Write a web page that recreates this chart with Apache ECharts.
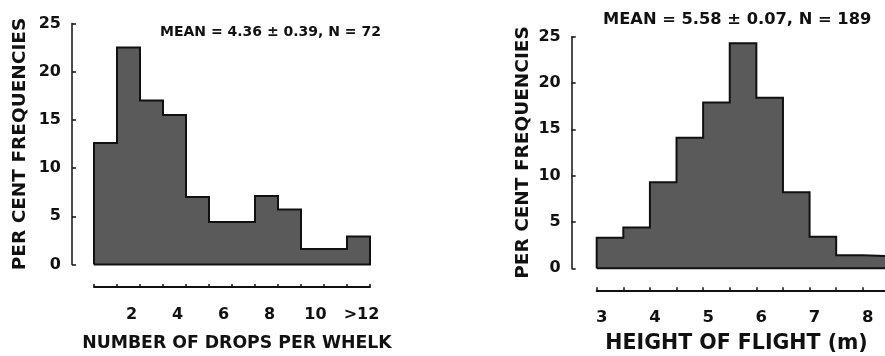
<!DOCTYPE html>
<html>
<head>
<meta charset="utf-8">
<script src="https://cdn.jsdelivr.net/npm/echarts@6/dist/echarts.min.js"></script>
<style>
  html, body { margin: 0; padding: 0; background: #fff; }
  #chart { width: 885px; height: 356px; }
</style>
</head>
<body>
<div id="chart"></div>
<script>
// Left panel: number of drops per whelk (one bin per drop count, last bin ">12")
const dropCategories = ['1', '2', '3', '4', '5', '6', '7', '8', '9', '10', '11', '>12'];
const dropPercent = [12.6, 22.5, 17.0, 15.5, 7.0, 4.4, 4.4, 7.1, 5.7, 1.6, 1.6, 2.9];
const dropTitle = 'MEAN = 4.36 ± 0.39, N = 72';

// Right panel: height of flight, 0.5 m bins starting at 3 m
const heightBinStart = 3;
const heightBinWidth = 0.5;
const heightPercent = [3.3, 4.4, 9.3, 14.1, 17.9, 24.3, 18.4, 8.2, 3.4, 1.4, 1.3];
const heightTitle = 'MEAN = 5.58 ± 0.07, N = 189';

const yTicks = [0, 5, 10, 15, 20, 25];

// Outline of a histogram as a closed path along the bin edges
function histogramPath(values, start, width) {
  const pts = [[start, 0]];
  values.forEach((v, i) => {
    pts.push([start + i * width, v]);
    pts.push([start + (i + 1) * width, v]);
  });
  const end = start + values.length * width;
  pts.push([end, 0]);
  pts.push([start, 0]);
  return pts;
}

const FONT = 'DejaVu Sans';
const INK = '#111';
const FILL = '#5a5a5a';

function yAxisFor(gridIndex, offset, nameGap) {
  return {
    gridIndex: gridIndex,
    type: 'value',
    min: yTicks[0],
    max: yTicks[yTicks.length - 1],
    interval: 5,
    offset: offset,
    name: 'PER CENT FREQUENCIES',
    nameLocation: 'middle',
    nameRotate: 90,
    nameGap: nameGap,
    nameTextStyle: { fontFamily: FONT, fontWeight: 'bold', fontSize: 18.5, color: INK },
    axisLine: { show: true, onZero: false, lineStyle: { color: INK, width: 1.5 } },
    axisTick: { show: true, inside: true, length: 4, lineStyle: { color: INK, width: 1.5 } },
    axisLabel: { fontFamily: FONT, fontWeight: 'bold', fontSize: 16, color: INK, margin: 11 },
    splitLine: { show: false }
  };
}

const chart = echarts.init(document.getElementById('chart'), null, { renderer: 'canvas' });

const heightEnd = heightBinStart + heightPercent.length * heightBinWidth;

chart.setOption({
  animation: false,
  backgroundColor: '#fff',
  title: [
    {
      text: dropTitle, left: 155, top: 20,
      textStyle: { fontFamily: FONT, fontWeight: 'bold', fontSize: 14, color: INK }
    },
    {
      text: heightTitle, left: 598, top: 7,
      textStyle: { fontFamily: FONT, fontWeight: 'bold', fontSize: 16.3, color: INK }
    }
  ],
  grid: [
    { left: 94, top: 23.5, width: 276, height: 241, containLabel: false, outerBoundsMode: 'none' },
    { left: 596.7, top: 36.7, width: 292.7, height: 231.6, containLabel: false, outerBoundsMode: 'none' }
  ],
  xAxis: [
    // scale for the left histogram outline
    { gridIndex: 0, type: 'value', min: 0, max: dropCategories.length, show: false,
      axisLine: { onZero: false } },
    // visible axis of the left panel, set below the bars
    {
      gridIndex: 0,
      type: 'category',
      data: dropCategories,
      boundaryGap: true,
      position: 'bottom',
      offset: 22.5,
      name: 'NUMBER OF DROPS PER WHELK',
      nameLocation: 'middle',
      nameGap: 48,
      nameTextStyle: { fontFamily: FONT, fontWeight: 'bold', fontSize: 17.3, color: INK,
        padding: [0, 0, 0, 10] },
      axisLine: { show: true, onZero: false, lineStyle: { color: INK, width: 2 } },
      axisTick: { show: true, inside: true, length: 3, interval: 0, lineStyle: { color: INK, width: 1.5 } },
      axisLabel: {
        fontFamily: FONT, fontWeight: 'bold', fontSize: 16, color: INK, margin: 20,
        padding: [0, 0, 0, 6],
        interval: (i) => i % 2 === 1
      },
      splitLine: { show: false }
    },
    // right panel: one value axis for both the bars and the visible scale
    {
      gridIndex: 1,
      type: 'value',
      min: heightBinStart,
      max: heightEnd,
      interval: heightBinWidth,
      offset: 22,
      name: 'HEIGHT OF FLIGHT (m)',
      nameLocation: 'middle',
      nameGap: 43,
      nameTextStyle: { fontFamily: FONT, fontWeight: 'bold', fontSize: 20.5, color: INK,
        padding: [0, 13, 0, 0] },
      axisLine: { show: true, onZero: false, lineStyle: { color: INK, width: 2 } },
      axisTick: { show: true, inside: true, length: 3, lineStyle: { color: INK, width: 1.5 } },
      axisLabel: {
        fontFamily: FONT, fontWeight: 'bold', fontSize: 16.5, color: INK, margin: 19,
        padding: [0, 0, 0, 10],
        formatter: (v) => (Number.isInteger(v) ? String(v) : '')
      },
      splitLine: { show: false }
    }
  ],
  yAxis: [
    yAxisFor(0, 22, 42),
    yAxisFor(1, 25, 39)
  ],
  series: [
    {
      type: 'line',
      xAxisIndex: 0,
      yAxisIndex: 0,
      data: histogramPath(dropPercent, 0, 1),
      symbol: 'none',
      clip: false,
      lineStyle: { color: INK, width: 2, join: 'miter' },
      areaStyle: { color: FILL, opacity: 1 }
    },
    {
      type: 'line',
      xAxisIndex: 2,
      yAxisIndex: 1,
      data: histogramPath(heightPercent, heightBinStart, heightBinWidth),
      symbol: 'none',
      clip: false,
      lineStyle: { color: INK, width: 2, join: 'miter' },
      areaStyle: { color: FILL, opacity: 1 }
    }
  ]
});
</script>
</body>
</html>
